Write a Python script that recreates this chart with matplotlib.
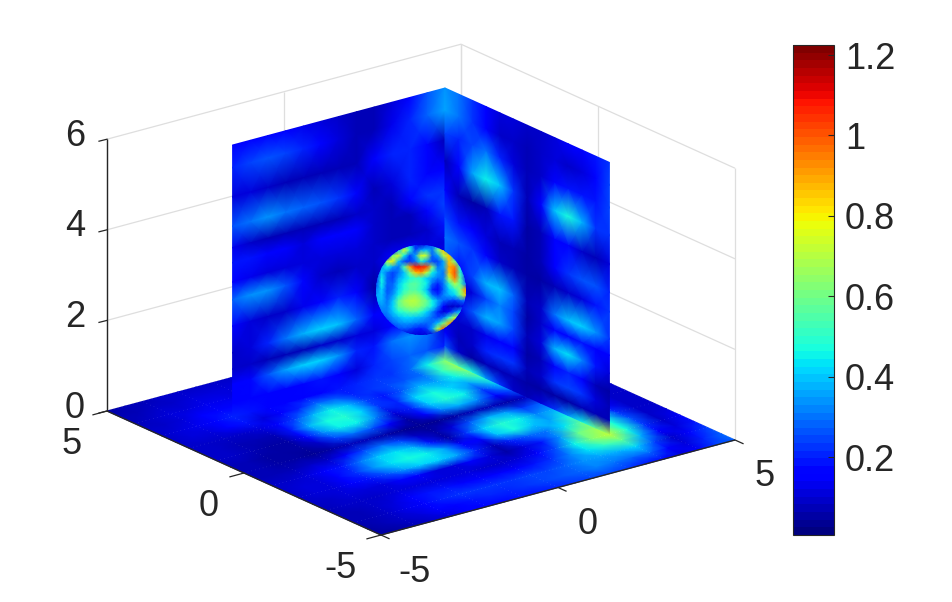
import numpy as np
import matplotlib
matplotlib.use("Agg")
import matplotlib.pyplot as plt
from matplotlib.patches import Circle

plt.rcParams['font.family'] = ['Liberation Sans', 'DejaVu Sans']

# floor slice z=0, rows y=5..-5, columns x=-5..5, in hundredths
floor_x = np.arange(-5, 5.01, 0.5)
floor_y = np.arange(5, -5.01, -0.5)
floor_vals = [
    [ 6,  7,  8,  9, 10, 10, 10, 10, 10, 10, 10, 10, 10, 10, 10, 10, 10, 10, 10, 10, 10],
    [ 7,  8,  9, 10, 11, 11, 11, 11, 11, 11, 11, 11, 11, 11, 11, 11, 11, 11, 11, 11, 11],
    [ 8,  9, 11, 12, 13, 13, 12, 12, 12, 12, 12, 12, 12, 12, 12, 14, 14, 14, 14, 14, 14],
    [ 9, 10, 12, 14, 17, 16, 14, 13, 13, 13, 14, 14, 14, 15, 16, 20, 30, 20, 14, 14, 14],
    [10, 11, 13, 16, 20, 18, 15, 14, 14, 14, 18, 20, 22, 22, 28, 46, 65, 30, 14, 14, 14],
    [10, 11, 12, 14, 18, 12, 15, 20, 30, 28, 20, 22, 24, 26, 30, 52, 68, 30, 14, 12, 12],
    [ 9, 10, 10, 10, 12, 14, 24, 38, 46, 40, 24, 18, 26, 38, 36, 46, 60, 30, 14, 10, 10],
    [ 9,  9,  8,  7,  8, 18, 38, 48, 50, 42, 22, 20, 42, 48, 42, 36, 50, 30, 14, 10, 10],
    [ 9,  9,  7,  6,  6, 16, 34, 46, 46, 32, 12, 20, 42, 50, 46, 24, 40, 28, 14, 10, 10],
    [ 8,  8,  6,  6,  5, 10, 24, 30, 26, 14,  6, 16, 32, 38, 32, 14, 26, 24, 12, 10, 10],
    [ 7,  7,  6,  5,  4,  5,  8,  8,  6,  4,  3,  4,  6,  8,  8,  5, 10, 15, 12, 10, 10],
    [ 8,  8,  8,  9, 10, 16, 24, 30, 24, 10,  6, 12, 26, 38, 36, 22, 28, 26, 14, 10, 10],
    [ 9, 10, 12, 14, 18, 30, 40, 44, 38, 18,  6, 22, 42, 50, 46, 32, 38, 30, 14, 10, 10],
    [10, 11, 12, 15, 22, 34, 44, 48, 46, 36, 16, 16, 40, 48, 40, 36, 48, 40, 16, 10, 10],
    [10, 11, 12, 14, 18, 26, 36, 42, 42, 36, 20,  8, 20, 28, 30, 44, 58, 46, 22, 10, 10],
    [ 9, 10, 11, 11, 12, 14, 14, 12, 12, 14, 12,  6, 12, 18, 34, 58, 66, 48, 27, 10, 12],
    [ 8,  9, 10, 10, 11, 12, 12, 12, 12, 10, 10, 12, 16, 26, 45, 62, 72, 47, 22, 10, 14],
    [ 7,  8, 10, 12, 15, 18, 18, 17, 17, 17, 16, 18, 22, 32, 44, 52, 56, 38, 15, 12, 18],
    [ 7,  8, 10, 13, 17, 20, 22, 22, 23, 23, 24, 25, 28, 34, 36, 38, 42, 24, 10, 17, 24],
    [ 6,  7,  9, 11, 14, 17, 18, 20, 21, 22, 24, 26, 28, 32, 30, 28, 28, 14, 12, 20, 28],
    [ 5,  6,  8, 10, 12, 14, 15, 17, 18, 18, 20, 22, 24, 24, 22, 18, 16, 12, 14, 24, 28],
]

# slice y=3, rows at wall_a_z, columns x=-3..3, in hundredths
wall_a_x = np.arange(-3, 3.01, 0.5)
wall_a_z = [6, 5.5, 4.85, 4.2, 3.73, 3.4, 2.97, 2.58, 2.0, 1.41, 1.05, 0.72, 0.3, 0]
wall_a_vals = [
    [15, 17, 17, 15, 13, 11,  9,  8,  8, 11, 16, 26, 34],
    [20, 25, 27, 25, 21, 16, 11,  8,  7, 13, 20, 28, 36],
    [12, 11,  9,  7,  7,  7,  7,  8, 14, 20, 20, 16,  8],
    [26, 31, 33, 31, 28, 26, 22, 16,  7, 12, 20, 16, 14],
    [13, 10,  8,  8,  8,  8,  8,  9,  9,  8, 14, 22, 22],
    [18, 19, 17, 14, 12, 14, 16, 14, 10,  8,  8, 16, 24],
    [15, 13, 12, 12, 11, 12, 12, 12, 10,  8,  8, 10, 18],
    [29, 34, 34, 27, 16, 10,  8,  9, 10, 14, 14, 12, 12],
    [16, 12, 10, 10, 13, 17, 20, 14,  6, 12, 18, 18, 14],
    [10, 12, 20, 31, 38, 42, 40, 28, 15, 15, 16, 16, 10],
    [10,  9,  8,  8,  8,  9, 10, 11, 11, 14, 16, 16,  8],
    [14, 17, 27, 36, 42, 42, 34, 21, 19, 30, 34, 30, 11],
    [14, 14, 14, 14, 16, 18, 14, 12, 20, 24, 28, 26, 18],
    [20, 18, 15, 14, 14, 16, 18, 20, 22, 22, 28, 45, 60],
]

# slice x=3, rows at wall_b_z, columns y=3..-3, in hundredths
wall_b_y = np.arange(3, -3.01, -0.5)
wall_b_z = [6, 5.5, 5, 4.39, 3.75, 3.13, 2.7, 2.1, 1.74, 1.34, 0.94, 0.6, 0.3, 0]
wall_b_vals = [
    [34, 30, 22, 15, 12, 11, 10, 10, 12, 14, 15, 18, 22],
    [36, 30, 22, 14, 10,  9,  8,  9, 11, 10, 12, 16, 24],
    [24, 20, 24, 30, 20, 12,  8, 10, 16, 18, 18, 18, 24],
    [ 8, 14, 36, 46, 40, 22,  8, 14, 40, 48, 38, 22, 22],
    [14,  8,  6,  8, 18, 18,  6,  8, 14, 16, 10,  8, 12],
    [24, 18, 14, 12,  8,  8,  5,  7, 14, 22, 26, 26, 20],
    [30, 26, 22, 16, 10,  8,  5,  6,  8, 10, 12, 18, 22],
    [26, 16, 24, 38, 40, 28,  7, 10, 30, 40, 42, 34, 22],
    [18,  7, 11, 24, 32, 24,  6,  9, 15, 17, 18, 14, 14],
    [22, 13, 26, 38, 36, 24,  7, 12, 38, 44, 32, 18, 12],
    [10, 10, 10, 13, 15, 14,  6,  8, 16, 20, 14,  7,  5],
    [14,  7, 10, 20, 22, 22,  7, 10, 22, 24, 22, 12,  7],
    [26, 10,  6,  7,  8,  8,  6,  6,  5,  6,  8,  8,  7],
    [60, 55, 48, 34, 22, 10,  8, 12, 22, 34, 46, 58, 70],
]

# front of the sphere r=1 at z=3, rows v=1..-1, columns u=-1..1, in hundredths
sphere_u = np.linspace(-1, 1, 17)
sphere_v = np.linspace(1, -1, 17)
sphere_vals = [
    [12, 12, 12, 12, 12, 40, 40, 20, 12, 20, 30, 40, 40, 12, 12, 12, 12],
    [12, 12, 12, 12, 40, 75, 50, 25, 35, 40, 30, 60, 85, 30, 12, 12, 12],
    [12, 12, 20, 60, 75, 45, 25, 35, 75, 70, 28, 35, 70, 85, 30, 12, 12],
    [12, 25, 70, 80, 40, 25, 22, 30, 45, 35, 25, 25, 35, 85, 60, 30, 12],
    [15, 35, 45, 35, 30, 55, 90,108,108,102, 65, 30, 35, 90, 95, 45, 15],
    [20, 40, 30, 25, 30, 40, 60, 85, 92, 72, 45, 35, 30, 85,100, 50, 20],
    [20, 45, 28, 25, 35, 42, 48, 52, 50, 42, 35, 30, 32, 70, 95, 55, 22],
    [25, 45, 28, 28, 40, 48, 54, 56, 52, 45, 28, 20, 30, 50, 70, 55, 30],
    [30, 42, 26, 30, 42, 50, 54, 54, 50, 40, 20, 15, 28, 42, 50, 65, 95],
    [35, 40, 28, 34, 46, 56, 62, 64, 58, 48, 30, 22, 32, 38, 42, 60, 85],
    [35, 38, 30, 40, 56, 66, 70, 70, 65, 58, 45, 35, 28, 25, 22, 28, 30],
    [30, 34, 32, 42, 56, 63, 66, 66, 62, 55, 46, 32, 14, 10, 10, 12, 14],
    [28, 30, 32, 40, 48, 52, 54, 54, 50, 42, 32, 20, 12, 18, 30, 40, 40],
    [20, 26, 28, 34, 38, 42, 42, 40, 38, 34, 28, 24, 30, 50, 70, 60, 30],
    [12, 20, 24, 28, 32, 34, 34, 32, 30, 28, 30, 40, 60, 90,100, 30, 12],
    [12, 12, 14, 20, 24, 26, 24, 20, 18, 22, 35, 70,100, 40, 12, 12, 12],
    [12, 12, 12, 12, 12, 12, 12, 12, 12, 12, 12, 12, 12, 12, 12, 12, 12],
]

z_ticks = [0, 2, 4, 6]
xy_ticks = [-5, 0, 5]
floor_seams = np.arange(-5, 6)
cbar_ticks = [0.2, 0.4, 0.6, 0.8, 1.0, 1.2]
cbar_labels = ['0.2', '0.4', '0.6', '0.8', '1', '1.2']
vmin, vmax = 0.006, 1.225


def project(x, y, z):
    sx = 421 + 35.4*np.asarray(x) - 27.4*np.asarray(y)
    sy = 425.5 - 9.5*np.asarray(x) - 12.4*np.asarray(y) - 45.3*np.asarray(z)
    return sx, sy


fig = plt.figure(figsize=(9.52, 6.02), dpi=100)
ax = fig.add_axes([0, 0, 1, 1])
ax.set_xlim(0, 952)
ax.set_ylim(602, 0)
ax.axis('off')

jet = plt.get_cmap('jet', 64)
tick_color = '#262626'
grid_color = '#dedede'


def line3(x, y, z, color=grid_color, lw=0.9, zorder=1):
    sx, sy = project(x, y, z)
    ax.plot(sx, sy, color=color, lw=lw, zorder=zorder, solid_capstyle='butt')


# back walls and grid
for z in z_ticks:
    line3([-5, 5, 5], [5, 5, -5], [z, z, z])
for t in xy_ticks:
    line3([t, t], [5, 5], [0, 6])
    line3([5, 5], [t, t], [0, 6])

# floor
X, Y = np.meshgrid(floor_x, floor_y)
sx, sy = project(X, Y, 0*X)
mesh = ax.pcolormesh(sx, sy, np.array(floor_vals)/100.0, shading='gouraud', cmap=jet,
                     vmin=vmin, vmax=vmax, zorder=2)
# faint white specks along the mesh seams
for t in floor_seams:
    for a, b in (([t, t], [-5, 5]), ([-5, 5], [t, t])):
        sx, sy = project(a, b, [0, 0])
        ax.plot(sx, sy, color='white', lw=0.4, alpha=0.3, ls=(0, (1, 6)), zorder=2.5)

# the two upright slices
X, Z = np.meshgrid(wall_a_x, wall_a_z)
sx, sy = project(X, 3 + 0*X, Z)
ax.pcolormesh(sx, sy, np.array(wall_a_vals)/100.0, shading='gouraud', cmap=jet,
              vmin=vmin, vmax=vmax, zorder=3)
Y, Z = np.meshgrid(wall_b_y, wall_b_z)
sx, sy = project(3 + 0*Y, Y, Z)
ax.pcolormesh(sx, sy, np.array(wall_b_vals)/100.0, shading='gouraud', cmap=jet,
              vmin=vmin, vmax=vmax, zorder=3)

# sphere, drawn as its visible disc
cx, cy = project(0, 0, 3)
radius = 45.0
U, V = np.meshgrid(sphere_u, sphere_v)
ball = ax.pcolormesh(cx + radius*U, cy - radius*V, np.array(sphere_vals)/100.0,
                     shading='gouraud', cmap=jet, vmin=vmin, vmax=vmax, zorder=4)
ball.set_clip_path(Circle((cx, cy), radius, transform=ax.transData))

# axis lines and ticks
line3([-5, -5, 5], [5, -5, -5], [0, 0, 0], color='#262626', lw=1.0, zorder=5)
line3([-5, -5], [5, 5], [0, 6], color='#262626', lw=1.0, zorder=5)
for z in z_ticks:
    sx, sy = project(-5, 5, z)
    ax.plot([sx - 8, sx], [sy + 2, sy], color=tick_color, lw=0.9, zorder=5)
    ax.text(sx - 32, sy - 3, str(z), fontsize=26, color=tick_color, ha='center', va='center')
for t in xy_ticks:
    sx, sy = project(-5, t, 0)
    ax.plot([sx - 14, sx], [sy + 3.8, sy], color=tick_color, lw=0.9, zorder=5)
    ax.text(sx - 35 - (5 if t < 0 else 0), sy + 33, str(t), fontsize=26, color=tick_color,
            ha='center', va='center')
    sx, sy = project(t, -5, 0)
    ax.plot([sx, sx + 8], [sy, sy + 3.6], color=tick_color, lw=0.9, zorder=5)
    ax.text(sx + 30 + (4 if t < 0 else 0), sy + 37, str(t), fontsize=26, color=tick_color,
            ha='center', va='center')

# colorbar
cax = fig.add_axes([793/952, 1 - 535/602, 41/952, 490/602])
cb = fig.colorbar(mesh, cax=cax, ticks=cbar_ticks, drawedges=False)
cb.ax.set_yticklabels(cbar_labels)
cb.ax.tick_params(direction='in', length=4, width=0.8, labelsize=26, colors=tick_color, pad=8)
cb.outline.set_linewidth(0.8)
cb.outline.set_edgecolor(tick_color)

fig.savefig('out.png', dpi=100)
